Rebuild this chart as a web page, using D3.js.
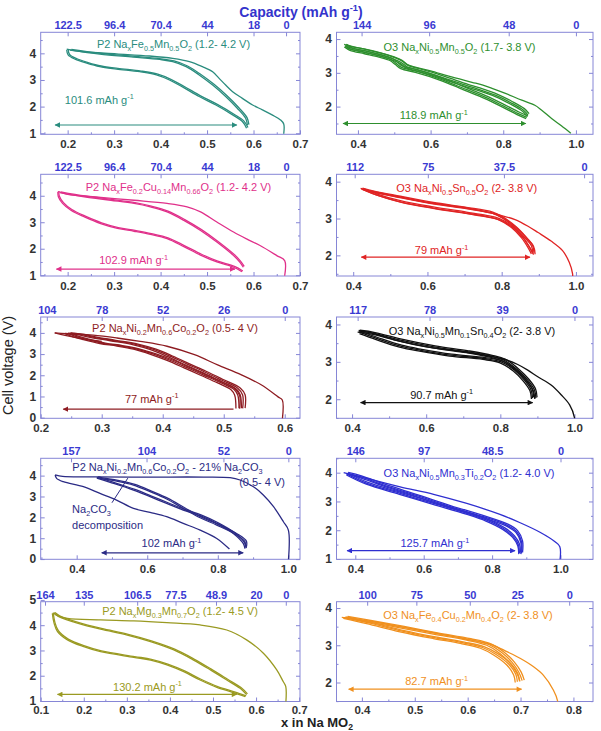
<!DOCTYPE html>
<html><head><meta charset="utf-8">
<script src="https://cdn.jsdelivr.net/npm/d3@7"></script>
<style>body{margin:0;background:#fff}svg{display:block}</style>
</head><body><svg id="c" width="601" height="731"></svg>
<script>
// ---------------- DATA (x in NaxMO2, cell voltage in V) ----------------
const p1Title = "P2 Na_{x}Fe_{0.5}Mn_{0.5}O_{2} (1.2- 4.2 V)";
const p1First = [[0.665,0.98],[0.665,1.35],[0.658,1.5],[0.64,1.69],[0.619,1.88],[0.598,2.06],[0.576,2.31],[0.555,2.56],[0.54,2.81],[0.526,3.06],[0.512,3.31],[0.49,3.5],[0.462,3.69],[0.426,3.81],[0.376,3.9],[0.305,3.98],[0.234,4.06],[0.198,4.16]];
const p1Chg = [[0.587,1.3],[0.583,1.56],[0.565,1.94],[0.54,2.38],[0.512,2.81],[0.483,3.19],[0.455,3.5],[0.426,3.69],[0.398,3.77],[0.341,3.86],[0.269,3.97],[0.205,4.12]];
const p1Dis = [[0.198,4.13],[0.201,3.94],[0.216,3.78],[0.241,3.63],[0.269,3.5],[0.305,3.41],[0.355,3.31],[0.391,3.19],[0.419,3.0],[0.448,2.73],[0.483,2.38],[0.519,2.06],[0.555,1.69],[0.576,1.44],[0.585,1.19]];
const p1Shifts = [[0,0],[0.003,0.025]];
const p1Cap = ["122.5","96.4","70.4","44","18","0"];
const p1CapX = [0.2,0.3,0.4,0.5,0.6,0.67];
const p1XTicks = [0.2,0.3,0.4,0.5,0.6,0.7];
const p1YTicks = [1,2,3,4];
const p1Arrow = [0.173,0.564,1.31];
const p1Label = ["101.6 mAh g^{-1}",0.194,2.25];

const p2Title = "O3 Na_{x}Ni_{0.5}Mn_{0.5}O_{2} (1.7- 3.8 V)";
const p2First = [[0.986,1.21],[0.96,1.43],[0.933,1.65],[0.905,1.9],[0.887,2.04],[0.851,2.19],[0.806,2.39],[0.769,2.54],[0.742,2.64],[0.714,2.72],[0.65,2.9],[0.6,3.06],[0.56,3.16],[0.535,3.25],[0.52,3.38],[0.5,3.47],[0.46,3.6],[0.42,3.7],[0.38,3.78],[0.362,3.84]];
const p2Chg = [[0.868,1.75],[0.855,1.9],[0.82,2.12],[0.78,2.33],[0.73,2.52],[0.7,2.62],[0.65,2.8],[0.6,2.98],[0.56,3.1],[0.535,3.18],[0.52,3.3],[0.5,3.4],[0.46,3.54],[0.42,3.65],[0.38,3.74],[0.365,3.8]];
const p2Dis = [[0.365,3.8],[0.38,3.7],[0.42,3.6],[0.46,3.5],[0.49,3.4],[0.505,3.28],[0.52,3.16],[0.56,3.05],[0.6,2.92],[0.65,2.72],[0.7,2.5],[0.75,2.28],[0.8,2.02],[0.84,1.8],[0.865,1.68]];
const p2Shifts = [[0,0],[0.003,0.04],[-0.002,-0.035]];
const p2Cap = ["144","96","48","0"];
const p2CapX = [0.41,0.596,0.815,1.0];
const p2XTicks = [0.4,0.6,0.8,1.0];
const p2YTicks = [2,3,4];
const p2Arrow = [0.359,0.862,1.5];
const p2Label = ["118.9 mAh g^{-1}",0.515,1.74];

const p3Title = "P2 Na_{x}Fe_{0.2}Cu_{0.14}Mn_{0.66}O_{2} (1.2- 4.2 V)";
const p3First = [[0.667,0.98],[0.667,1.55],[0.65,1.74],[0.614,2.12],[0.585,2.37],[0.557,2.63],[0.521,3.01],[0.486,3.39],[0.457,3.58],[0.414,3.71],[0.343,3.83],[0.271,3.94],[0.2,4.05],[0.18,4.16]];
const p3Chg = [[0.578,1.3],[0.57,1.5],[0.557,1.74],[0.521,2.25],[0.486,2.69],[0.45,3.07],[0.414,3.39],[0.378,3.58],[0.343,3.71],[0.293,3.83],[0.236,3.96],[0.183,4.12]];
const p3Dis = [[0.179,4.15],[0.18,3.96],[0.189,3.71],[0.207,3.45],[0.236,3.2],[0.271,2.95],[0.307,2.77],[0.343,2.66],[0.378,2.54],[0.414,2.38],[0.45,2.08],[0.486,1.76],[0.521,1.5],[0.557,1.3],[0.575,1.13]];
const p3Shifts = [[0,0],[0.002,0.03]];
const p3Cap = ["122.5","96.4","70.4","44","18","0"];
const p3CapX = [0.2,0.3,0.4,0.5,0.6,0.67];
const p3XTicks = [0.2,0.3,0.4,0.5,0.6,0.7];
const p3YTicks = [1,2,3,4];
const p3Arrow = [0.176,0.56,1.23];
const p3Label = ["102.9 mAh g^{-1}",0.268,1.56];

const p4Title = "O3 Na_{x}Ni_{0.5}Sn_{0.5}O_{2} (2- 3.8 V)";
const p4First = [[0.991,1.4],[0.991,1.5],[0.982,1.81],[0.964,2.13],[0.933,2.39],[0.898,2.62],[0.871,2.79],[0.836,2.97],[0.8,3.08],[0.77,3.15],[0.7,3.3],[0.6,3.44],[0.52,3.6],[0.45,3.74],[0.42,3.82]];
const p4Chg = [[0.884,2.05],[0.88,2.26],[0.862,2.48],[0.836,2.75],[0.8,3.02],[0.773,3.15],[0.702,3.28],[0.613,3.41],[0.524,3.58],[0.453,3.72],[0.422,3.8]];
const p4Dis = [[0.425,3.79],[0.462,3.64],[0.524,3.46],[0.613,3.29],[0.702,3.15],[0.756,3.06],[0.791,2.97],[0.827,2.75],[0.853,2.48],[0.871,2.21],[0.88,2.04]];
const p4Shifts = [[0,0],[0.003,0.025],[0.006,-0.02]];
const p4Cap = ["112","75","37.5","0"];
const p4CapX = [0.404,0.601,0.806,1.022];
const p4XTicks = [0.4,0.6,0.8,1.0];
const p4YTicks = [2,3,4];
const p4Arrow = [0.422,0.876,1.95];
const p4Label = ["79 mAh g^{-1}",0.566,2.14];

const p5Title = "P2 Na_{x}Ni_{0.2}Mn_{0.6}Co_{0.2}O_{2} (0.5- 4 V)";
const p5First = [[0.596,-0.1],[0.596,0.83],[0.589,0.98],[0.562,1.54],[0.529,2.02],[0.49,2.49],[0.452,2.97],[0.407,3.37],[0.363,3.6],[0.325,3.76],[0.286,3.89],[0.242,3.96],[0.223,4.0]];
const p5FirstDis = [[0.223,4.0],[0.24,3.88],[0.27,3.72],[0.3,3.6]];
const p5Chg = [[0.526,0.43],[0.526,1.06],[0.518,1.38],[0.49,1.78],[0.462,2.17],[0.435,2.52],[0.407,2.89],[0.38,3.21],[0.352,3.44],[0.314,3.63],[0.281,3.79],[0.26,3.92],[0.24,3.98]];
const p5Dis = [[0.24,3.97],[0.255,3.8],[0.27,3.68],[0.297,3.5],[0.325,3.38],[0.352,3.23],[0.38,2.99],[0.407,2.7],[0.435,2.35],[0.462,2.0],[0.49,1.64],[0.512,1.32],[0.518,1.06],[0.52,0.43]];
const p5Shifts = [[0,0],[0.005,0.01],[0.009,0.02]];
const p5Cap = ["104","78","52","26","0"];
const p5CapX = [0.21,0.3,0.4,0.5,0.6];
const p5XTicks = [0.2,0.3,0.4,0.5,0.6];
const p5YTicks = [0,1,2,3,4];
const p5Arrow = [0.237,0.516,0.4];
const p5Label = ["77 mAh g^{-1}",0.338,0.9];

const p6Title = "O3 Na_{x}Ni_{0.5}Mn_{0.1}Sn_{0.4}O_{2} (2- 3.8 V)";
const p6First = [[1.0,1.4],[1.0,1.51],[0.987,1.85],[0.964,2.12],[0.937,2.38],[0.901,2.6],[0.874,2.78],[0.847,2.93],[0.82,3.04],[0.784,3.13],[0.7,3.27],[0.6,3.4],[0.53,3.55],[0.46,3.75],[0.418,3.84]];
const p6Chg = [[0.896,2.03],[0.892,2.25],[0.874,2.51],[0.847,2.78],[0.811,3.04],[0.775,3.15],[0.711,3.27],[0.621,3.4],[0.531,3.58],[0.459,3.76],[0.418,3.82]];
const p6Dis = [[0.423,3.78],[0.468,3.62],[0.531,3.42],[0.585,3.31],[0.666,3.18],[0.756,3.09],[0.802,3.0],[0.838,2.78],[0.865,2.51],[0.883,2.25],[0.887,2.03]];
const p6Shifts = [[0,0],[0.003,0.025],[-0.003,-0.025]];
const p6Cap = ["117","78","39","0"];
const p6CapX = [0.415,0.609,0.805,1.0];
const p6XTicks = [0.4,0.6,0.8,1.0];
const p6YTicks = [2,3,4];
const p6Arrow = [0.423,0.887,1.91];
const p6Label = ["90.7 mAh g^{-1}",0.557,2.12];

const p7Title = "P2 Na_{x}Ni_{0.2}Mn_{0.6}Co_{0.2}O_{2} - 21% Na_{2}CO_{3}";
const p7Title2 = "(0.5- 4 V)";
const p7First = [[1.0,-0.1],[1.0,1.39],[0.986,1.79],[0.958,2.51],[0.929,3.07],[0.901,3.47],[0.863,3.79],[0.835,3.9],[0.76,3.93],[0.6,3.93],[0.45,3.94],[0.36,3.96],[0.339,4.03]];
const p7FirstDis = [[0.339,4.03],[0.343,3.87],[0.362,3.71],[0.419,3.47],[0.466,3.15],[0.513,2.83],[0.561,2.43],[0.608,2.24],[0.655,2.03],[0.702,1.71],[0.75,1.39],[0.797,0.99],[0.833,0.48]];
const p7Chg = [[0.877,0.55],[0.877,0.83],[0.854,1.15],[0.797,1.63],[0.75,1.98],[0.702,2.43],[0.655,2.88],[0.608,3.23],[0.561,3.55],[0.513,3.74],[0.466,3.87],[0.457,3.92]];
const p7Dis = [[0.457,3.88],[0.495,3.68],[0.561,3.31],[0.608,2.99],[0.655,2.67],[0.702,2.35],[0.75,2.08],[0.797,1.71],[0.844,1.23],[0.872,0.75],[0.877,0.5]];
const p7Shifts = [[0,0],[0.004,0.03]];
const p7Cap = ["157","104","52","0"];
const p7CapX = [0.384,0.598,0.816,1.0];
const p7XTicks = [0.4,0.6,0.8,1.0];
const p7YTicks = [0,1,2,3,4];
const p7Arrow = [0.471,0.872,0.3];
const p7Label = ["102 mAh g^{-1}",0.584,0.75];
const p7Note = ["Na_{2}CO_{3}","decomposition"];
const p7NoteAt = [0.387,2.4,1.62];
const p7NoteLine = [[0.5,2.7],[0.545,3.88]];

const p8Title = "O3 Na_{x}Ni_{0.5}Mn_{0.3}Ti_{0.2}O_{2} (1.2- 4.0 V)";
const p8First = [[0.998,0.9],[0.998,1.43],[0.984,1.6],[0.94,1.93],[0.882,2.26],[0.823,2.55],[0.726,2.93],[0.629,3.25],[0.531,3.51],[0.434,3.8],[0.366,4.0]];
const p8Chg = [[0.886,1.2],[0.886,1.6],[0.872,1.95],[0.843,2.18],[0.775,2.47],[0.677,2.82],[0.58,3.2],[0.483,3.57],[0.415,3.86],[0.376,3.98]];
const p8Dis = [[0.376,3.95],[0.434,3.63],[0.531,3.28],[0.629,2.93],[0.726,2.59],[0.784,2.35],[0.833,2.06],[0.862,1.78],[0.877,1.49],[0.88,1.2]];
const p8Shifts = [[0,0],[0.003,0.03],[-0.002,-0.03]];
const p8Cap = ["146","97","48.5","0"];
const p8CapX = [0.4,0.6,0.8,1.0];
const p8XTicks = [0.4,0.6,0.8,1.0];
const p8YTicks = [1,2,3,4];
const p8Arrow = [0.376,0.867,1.29];
const p8Label = ["125.7 mAh g^{-1}",0.532,1.54];

const p9Title = "P2 Na_{x}Mg_{0.3}Mn_{0.7}O_{2} (1.2- 4.5 V)";
const p9First = [[0.669,0.9],[0.669,1.57],[0.663,1.77],[0.648,2.23],[0.617,2.89],[0.578,3.42],[0.532,3.81],[0.47,4.01],[0.393,4.1],[0.316,4.17],[0.239,4.21],[0.162,4.27],[0.135,4.41],[0.131,4.5]];
const p9Chg = [[0.578,1.25],[0.563,1.5],[0.532,1.83],[0.494,2.23],[0.455,2.62],[0.409,3.02],[0.355,3.35],[0.301,3.61],[0.239,3.84],[0.185,4.08],[0.142,4.34],[0.131,4.47]];
const p9Dis = [[0.127,4.47],[0.131,4.08],[0.139,3.75],[0.162,3.42],[0.2,3.15],[0.239,2.95],[0.316,2.73],[0.355,2.62],[0.393,2.43],[0.432,2.16],[0.47,1.83],[0.509,1.54],[0.548,1.33],[0.575,1.17]];
const p9Shifts = [[0,0],[0.002,0.03]];
const p9Cap = ["164","135","106.5","77.5","48.9","20","0"];
const p9CapX = [0.11,0.2,0.324,0.413,0.507,0.6,0.669];
const p9XTicks = [0.1,0.2,0.3,0.4,0.5,0.6,0.7];
const p9YTicks = [1,2,3,4,5];
const p9Arrow = [0.139,0.555,1.26];
const p9Label = ["130.2 mAh g^{-1}",0.268,1.57];

const p10Title = "O3 Na_{x}Fe_{0.4}Cu_{0.2}Mn_{0.4}O_{2} (2- 3.8 V)";
const p10First = [[0.77,1.4],[0.77,1.51],[0.762,1.8],[0.743,2.2],[0.724,2.43],[0.699,2.65],[0.674,2.83],[0.649,3.0],[0.624,3.09],[0.598,3.16],[0.535,3.34],[0.472,3.5],[0.409,3.66],[0.362,3.75]];
const p10Chg = [[0.699,2.03],[0.693,2.25],[0.68,2.52],[0.661,2.78],[0.636,3.0],[0.598,3.14],[0.535,3.3],[0.472,3.47],[0.409,3.63],[0.365,3.74]];
const p10Dis = [[0.365,3.72],[0.409,3.58],[0.472,3.36],[0.535,3.18],[0.586,3.05],[0.624,2.92],[0.649,2.74],[0.674,2.47],[0.687,2.2],[0.69,2.0]];
const p10Shifts = [[0,0],[0.004,0.02],[0.008,0.035]];
const p10Cap = ["100","75","50","25","0"];
const p10CapX = [0.41,0.503,0.604,0.694,0.792];
const p10XTicks = [0.4,0.5,0.6,0.7,0.8];
const p10YTicks = [2,3,4];
const p10Arrow = [0.375,0.702,1.82];
const p10Label = ["82.7 mAh g^{-1}",0.482,2.03];

const capTitle = "Capacity (mAh g^{-1})";
const yTitle = "Cell voltage (V)";
const xTitle = "x in Na MO_{2}";

// ---------------- LAYOUT / STYLE ----------------
const FONT = "Arial, 'Liberation Sans', Helvetica, sans-serif";
const FRAME = "#8686d6";
const TOPC = "#3a3ad2";
const COLX = [40.7, 336.5], COLW = [259.3, 256.5];
const ROWS = [[32.3,134.3],[174.3,276],[317,418.3],[458.3,559.3],[601.7,701.5]];

const panels = [
 {col:0,row:0,color:"#2a8c7e",title:p1Title,tpos:[132.8,12],xDom:[0.142,0.7],yDom:[0.96,4.79],first:[p1First],chg:p1Chg,dis:p1Dis,shifts:p1Shifts,cap:p1Cap,capX:p1CapX,xt:p1XTicks,yt:p1YTicks,arrow:p1Arrow,label:p1Label,fmt:".1f"},
 {col:1,row:0,color:"#2e8f2e",title:p2Title,tpos:[123,14.4],xDom:[0.341,1.047],yDom:[1.18,4.2],first:[p2First],chg:p2Chg,dis:p2Dis,shifts:p2Shifts,cap:p2Cap,capX:p2CapX,xt:p2XTicks,yt:p2YTicks,arrow:p2Arrow,label:p2Label,fmt:".1f"},
 {col:0,row:1,color:"#e0308a",title:p3Title,tpos:[137.8,12.4],xDom:[0.142,0.7],yDom:[0.97,4.81],first:[p3First],chg:p3Chg,dis:p3Dis,shifts:p3Shifts,cap:p3Cap,capX:p3CapX,xt:p3XTicks,yt:p3YTicks,arrow:p3Arrow,label:p3Label,fmt:".1f"},
 {col:1,row:1,color:"#e02424",title:p4Title,tpos:[130.3,13.4],xDom:[0.355,1.046],yDom:[1.44,4.2],first:[p4First],chg:p4Chg,dis:p4Dis,shifts:p4Shifts,cap:p4Cap,capX:p4CapX,xt:p4XTicks,yt:p4YTicks,arrow:p4Arrow,label:p4Label,fmt:".1f"},
 {col:0,row:2,color:"#8e1c22",title:p5Title,tpos:[134.3,11.3],xDom:[0.2,0.625],yDom:[-0.03,4.75],first:[p5First,p5FirstDis],chg:p5Chg,dis:p5Dis,shifts:p5Shifts,cap:p5Cap,capX:p5CapX,xt:p5XTicks,yt:p5YTicks,arrow:p5Arrow,label:p5Label,fmt:".1f",single:true},
 {col:1,row:2,color:"#111111",title:p6Title,tpos:[135.5,13.7],xDom:[0.358,1.05],yDom:[1.49,4.2],first:[p6First],chg:p6Chg,dis:p6Dis,shifts:p6Shifts,cap:p6Cap,capX:p6CapX,xt:p6XTicks,yt:p6YTicks,arrow:p6Arrow,label:p6Label,fmt:".1f"},
 {col:0,row:3,color:"#2b2b85",title:p7Title,title2:p7Title2,tpos:[126.8,9],tpos2:[244.3,24],xDom:[0.298,1.033],yDom:[-0.01,4.83],first:[p7First,p7FirstDis],chg:p7Chg,dis:p7Dis,shifts:p7Shifts,cap:p7Cap,capX:p7CapX,xt:p7XTicks,yt:p7YTicks,arrow:p7Arrow,label:p7Label,fmt:".1f",note:true},
 {col:1,row:3,color:"#2f2fd0",title:p8Title,tpos:[132.5,14.4],xDom:[0.345,1.095],yDom:[0.99,4.5],first:[p8First],chg:p8Chg,dis:p8Dis,shifts:p8Shifts,cap:p8Cap,capX:p8CapX,xt:p8XTicks,yt:p8YTicks,arrow:p8Arrow,label:p8Label,fmt:".1f"},
 {col:0,row:4,color:"#9a9a22",title:p9Title,tpos:[139.3,9.3],xDom:[0.1,0.702],yDom:[0.98,4.93],first:[p9First],chg:p9Chg,dis:p9Dis,shifts:p9Shifts,cap:p9Cap,capX:p9CapX,xt:p9XTicks,yt:p9YTicks,arrow:p9Arrow,label:p9Label,fmt:".1f"},
 {col:1,row:4,color:"#f0901e",title:p10Title,tpos:[131.5,13.3],xDom:[0.352,0.837],yDom:[1.49,4.17],first:[p10First],chg:p10Chg,dis:p10Dis,shifts:p10Shifts,cap:p10Cap,capX:p10CapX,xt:p10XTicks,yt:p10YTicks,arrow:p10Arrow,label:p10Label,fmt:".1f"}
];

const svg = d3.select("#c");
const defs = svg.append("defs");

function rich(sel, str, size) {
  const re = /([_^])\{([^}]*)\}/g; const parts = []; let last = 0, m;
  while ((m = re.exec(str))) {
    if (m.index > last) parts.push({t: str.slice(last, m.index), o: 0});
    parts.push({t: m[2], o: m[1] === "_" ? 1 : -1}); last = re.lastIndex;
  }
  if (last < str.length) parts.push({t: str.slice(last), o: 0});
  let cur = 0;
  parts.forEach(p => {
    const off = p.o === 1 ? size * 0.28 : p.o === -1 ? -size * 0.42 : 0;
    sel.append("tspan").attr("dy", off - cur).attr("font-size", p.o ? size * 0.66 : size).text(p.t);
    cur = off;
  });
  return sel;
}

function minorOf(ticks) {
  const out = []; if (ticks.length < 2) return out;
  const st = ticks[1] - ticks[0];
  out.push(ticks[0] - st / 2);
  ticks.forEach(t => out.push(t + st / 2));
  return out;
}

panels.forEach((p, i) => {
  const w = COLW[p.col], top = ROWS[p.row][0], h = ROWS[p.row][1] - top;
  const g = svg.append("g").attr("transform", `translate(${COLX[p.col]},${top})`);
  const x = d3.scaleLinear().domain(p.xDom).range([0, w]);
  const y = d3.scaleLinear().domain(p.yDom).range([h, 0]);
  const inX = v => v >= p.xDom[0] - 1e-9 && v <= p.xDom[1] + 1e-9;
  const inY = v => v >= p.yDom[0] - 1e-9 && v <= p.yDom[1] + 1e-9;

  function styleAxis(a, size, color) {
    a.select(".domain").remove();
    a.selectAll("line").attr("stroke", FRAME);
    a.attr("font-family", FONT).attr("font-size", size).attr("font-weight", "bold");
    a.selectAll("text").attr("fill", color);
  }
  const ab = g.append("g").attr("transform", `translate(0,${h})`)
    .call(d3.axisBottom(x).tickValues(p.xt).tickFormat(d3.format(p.fmt)).tickSize(-4).tickPadding(p.row === 4 ? 4.5 : 5.5));
  styleAxis(ab, 11.5, "#333");
  const abm = g.append("g").attr("transform", `translate(0,${h})`)
    .call(d3.axisBottom(x).tickValues(minorOf(p.xt).filter(inX)).tickFormat("").tickSize(-2));
  styleAxis(abm, 10, "#333");
  const at = g.append("g")
    .call(d3.axisTop(x).tickValues(p.capX).tickFormat((d, k) => p.cap[k]).tickSize(-4).tickPadding(3));
  styleAxis(at, 11, TOPC);
  const al = g.append("g")
    .call(d3.axisLeft(y).tickValues(p.yt).tickFormat(d3.format("d")).tickSize(-4).tickPadding(4.5));
  styleAxis(al, 12, "#333");
  const alm = g.append("g").call(d3.axisLeft(y).tickValues(minorOf(p.yt).filter(inY)).tickFormat("").tickSize(-2));
  styleAxis(alm, 10, "#333");
  const ar = g.append("g").attr("transform", `translate(${w},0)`)
    .call(d3.axisRight(y).tickValues(p.yt.filter(inY)).tickFormat("").tickSize(-4));
  styleAxis(ar, 10, "#333");
  const arm = g.append("g").attr("transform", `translate(${w},0)`)
    .call(d3.axisRight(y).tickValues(minorOf(p.yt).filter(inY)).tickFormat("").tickSize(-2));
  styleAxis(arm, 10, "#333");

  g.append("rect").attr("width", w).attr("height", h).attr("fill", "none").attr("stroke", FRAME).attr("stroke-width", 1);

  defs.append("clipPath").attr("id", "clip" + i).append("rect").attr("width", w).attr("height", h);
  const plot = g.append("g").attr("clip-path", `url(#clip${i})`);
  const line = d3.line().x(d => x(d[0])).y(d => y(d[1])).curve(d3.curveCatmullRom.alpha(0.5));
  const lw = 1.3;
  p.first.forEach(arr => plot.append("path").attr("d", line(arr)).attr("fill", "none").attr("stroke", p.color).attr("stroke-width", lw));
  p.shifts.forEach(s => {
    const sh = arr => arr.map(d => [d[0] + s[0], d[1] + s[1]]);
    plot.append("path").attr("d", line(sh(p.dis))).attr("fill", "none").attr("stroke", p.color).attr("stroke-width", lw);
    plot.append("path").attr("d", line(sh(p.chg))).attr("fill", "none").attr("stroke", p.color).attr("stroke-width", lw);
  });

  const mk = defs.append("marker").attr("id", "ah" + i).attr("viewBox", "0 0 10 10")
    .attr("refX", 9).attr("refY", 5).attr("markerWidth", 6).attr("markerHeight", 5.5)
    .attr("markerUnits", "userSpaceOnUse").attr("orient", "auto-start-reverse");
  mk.append("path").attr("d", "M0,0 L10,5 L0,10 Z").attr("fill", p.color);
  const arl = g.append("line").attr("x1", x(p.arrow[0])).attr("x2", x(p.arrow[1]))
    .attr("y1", y(p.arrow[2])).attr("y2", y(p.arrow[2]))
    .attr("stroke", p.color).attr("stroke-width", 1.2)
    .attr("marker-start", `url(#ah${i})`);
  if (!p.single) arl.attr("marker-end", `url(#ah${i})`);

  rich(g.append("text").attr("x", x(p.label[1])).attr("y", y(p.label[2]) + 4)
    .attr("font-family", FONT).attr("fill", p.color), p.label[0], 11);

  rich(g.append("text").attr("x", p.tpos[0]).attr("y", p.tpos[1] + 4).attr("text-anchor", "middle")
    .attr("font-family", FONT).attr("fill", p.color), p.title, 11);
  if (p.title2) {
    g.append("text").attr("x", p.tpos2[0]).attr("y", p.tpos2[1] + 4).attr("text-anchor", "end")
      .attr("font-family", FONT).attr("font-size", 11).attr("fill", p.color).text(p.title2);
  }
  if (p.note) {
    rich(g.append("text").attr("x", x(p7NoteAt[0])).attr("y", y(p7NoteAt[1]) + 4)
      .attr("font-family", FONT).attr("fill", p.color), p7Note[0], 11);
    g.append("text").attr("x", x(p7NoteAt[0])).attr("y", y(p7NoteAt[2]) + 4)
      .attr("font-family", FONT).attr("font-size", 11).attr("fill", p.color).text(p7Note[1]);
    g.append("line").attr("x1", x(p7NoteLine[0][0])).attr("y1", y(p7NoteLine[0][1]))
      .attr("x2", x(p7NoteLine[1][0])).attr("y2", y(p7NoteLine[1][1]))
      .attr("stroke", p.color).attr("stroke-width", 1);
  }
});

rich(svg.append("text").attr("x", 301).attr("y", 17).attr("text-anchor", "middle")
  .attr("font-family", FONT).attr("font-weight", "bold").attr("fill", "#3333cc"), capTitle, 14);
svg.append("text").attr("transform", "translate(13,365.5) rotate(-90)").attr("text-anchor", "middle")
  .attr("font-family", FONT).attr("font-size", 14.5).attr("fill", "#222").text(yTitle);
rich(svg.append("text").attr("x", 281).attr("y", 726.5)
  .attr("font-family", FONT).attr("font-weight", "bold").attr("fill", "#222"), xTitle, 13);
</script>
</body></html>
